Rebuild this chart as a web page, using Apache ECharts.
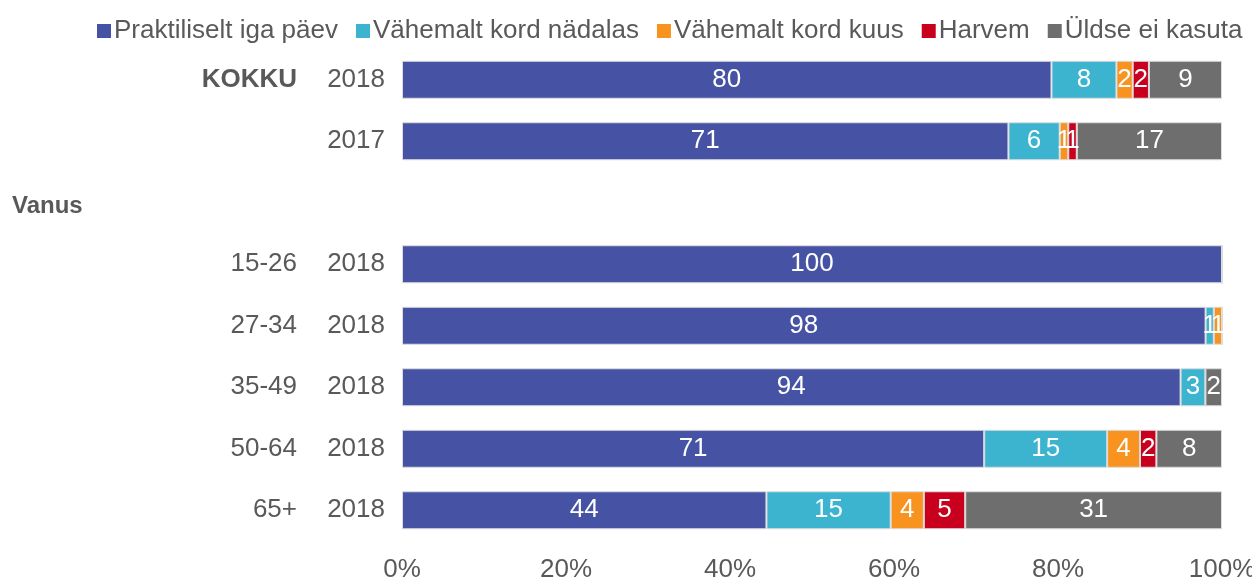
<!DOCTYPE html>
<html>
<head>
<meta charset="utf-8">
<script src="https://cdn.jsdelivr.net/npm/echarts@6/dist/echarts.min.js"></script>
<style>
  html, body { margin: 0; padding: 0; background: #fff; }
  #chart { width: 1252px; height: 579px; }
</style>
</head>
<body>
<div id="chart"></div>
<script>
// rea sildid (grupp + aasta)
var groups = ['KOKKU', '', 'Vanus', '15-26', '27-34', '35-49', '50-64', '65+'];
var years = ['2018', '2017', '', '2018', '2018', '2018', '2018', '2018'];

var seriesNames = ['Praktiliselt iga päev', 'Vähemalt kord nädalas', 'Vähemalt kord kuus', 'Harvem', 'Üldse ei kasuta'];
var colors = ['#4652A4', '#3CB3CF', '#F7931E', '#C8001E', '#6E6E6E'];

// väärtused (%), Vanus rida on tühi
var daily = [80, 71, null, 100, 98, 94, 71, 44];
var weekly = [8, 6, null, 0, 1, 3, 15, 15];
var monthly = [2, 1, null, 0, 1, 0, 4, 4];
var rarely = [2, 1, null, 0, 0, 0, 2, 5];
var never = [9, 17, null, 0, 0, 2, 8, 31];

var xTicks = [0, 20, 40, 60, 80, 100];

var allValues = [daily, weekly, monthly, rarely, never];
var FONT = '"Liberation Sans", Arial, sans-serif';
var TXT = '#595959';
var FS = 26;

// 100% tulp: iga rida normeeritakse summaga
var totals = groups.map(function (g, i) {
  var s = 0;
  allValues.forEach(function (arr) { s += arr[i] || 0; });
  return s;
});

var categories = groups.map(function (g, i) { return i; });

var series = allValues.map(function (arr, k) {
  return {
    name: seriesNames[k],
    type: 'bar',
    stack: 'total',
    barWidth: 38,
    itemStyle: { color: colors[k], borderColor: '#dcdcdc', borderWidth: 1 },
    label: {
      show: true,
      position: 'inside',
      color: '#fff',
      fontSize: FS,
      fontFamily: FONT,
      formatter: function (p) {
        var raw = p.data.raw;
        return raw ? String(raw) : '';
      }
    },
    data: arr.map(function (v, i) {
      if (v === null) return { value: null, raw: null };
      return { value: totals[i] ? v / totals[i] * 100 : 0, raw: v };
    })
  };
});

var chart = echarts.init(document.getElementById('chart'));
chart.setOption({
  animation: false,
  textStyle: { fontFamily: FONT },
  legend: {
    data: seriesNames,
    top: 13,
    left: 92,
    itemWidth: 14,
    itemHeight: 14,
    itemGap: 18,
    icon: 'rect',
    selectedMode: false,
    itemStyle: { borderWidth: 0 },
    textStyle: { color: TXT, fontSize: FS, fontFamily: FONT, padding: [0, 0, 0, -2] }
  },
  grid: { left: 402, right: 30, top: 49, bottom: 38, outerBoundsMode: 'none', containLabel: false },
  xAxis: {
    type: 'value',
    min: 0,
    max: 100,
    interval: 20,
    axisLine: { show: false },
    axisTick: { show: false },
    splitLine: { show: false },
    axisLabel: {
      color: TXT,
      fontSize: FS,
      fontFamily: FONT,
      margin: 16,
      formatter: function (v) { return xTicks.indexOf(v) >= 0 ? v + '%' : ''; }
    }
  },
  yAxis: {
    type: 'category',
    inverse: true,
    data: categories,
    axisLine: { show: false },
    axisTick: { show: false },
    axisLabel: {
      margin: 17,
      formatter: function (v) {
        var i = +v;
        var g = groups[i], y = years[i];
        if (g === 'Vanus') return '{v|Vanus}';
        if (g === 'KOKKU') return '{gb|KOKKU}{y|' + y + '}';
        if (g) return '{g|' + g + '}{y|' + y + '}';
        return '{y|' + y + '}';
      },
      rich: {
        g: { width: 285, align: 'right', color: TXT, fontSize: FS, fontFamily: FONT },
        gb: { width: 285, align: 'right', color: TXT, fontSize: FS, fontWeight: 'bold', fontFamily: FONT },
        y: { width: 88, align: 'right', color: TXT, fontSize: FS, fontFamily: FONT },
        v: { width: 373, align: 'left', color: TXT, fontSize: 24, fontWeight: 'bold', fontFamily: FONT, padding: [8, 0, 0, 0] }
      }
    }
  },
  series: series
});
</script>
</body>
</html>
